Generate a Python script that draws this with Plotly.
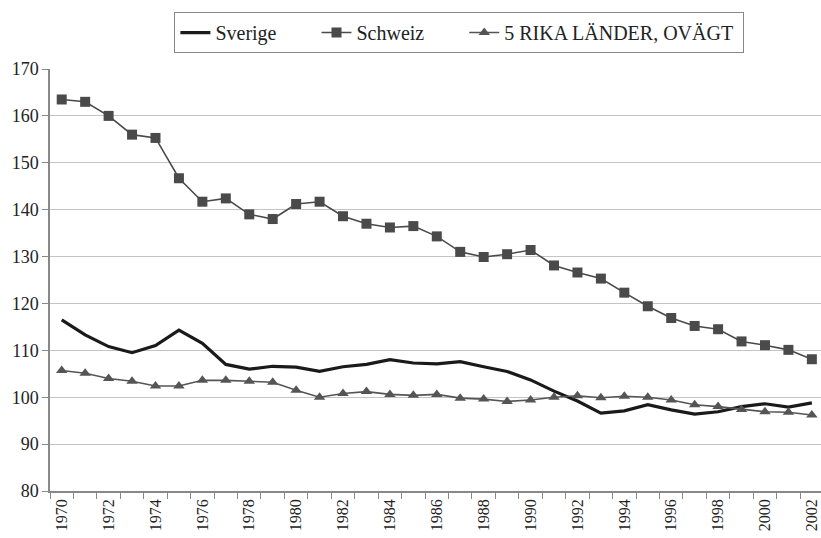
import plotly.graph_objects as go

years = [str(y) for y in range(1970, 2003)]
sverige = [116.5, 113.3, 110.8, 109.5, 111.0, 114.3, 111.5, 107.0, 106.0, 106.6, 106.4,
           105.5, 106.5, 107.0, 108.0, 107.3, 107.1, 107.6, 106.5, 105.5, 103.7, 101.3,
           99.2, 96.6, 97.1, 98.4, 97.3, 96.4, 96.9, 98.0, 98.6, 97.9, 98.8]
schweiz = [163.5, 163.0, 160.0, 156.0, 155.3, 146.7, 141.7, 142.4, 139.0, 138.0, 141.2,
           141.7, 138.6, 137.0, 136.2, 136.5, 134.3, 131.0, 129.9, 130.5, 131.4, 128.1,
           126.6, 125.3, 122.3, 119.4, 116.9, 115.2, 114.5, 111.9, 111.1, 110.1, 108.1]
rika = [105.7, 105.1, 104.0, 103.4, 102.4, 102.4, 103.6, 103.6, 103.4, 103.2, 101.5,
        100.0, 100.8, 101.2, 100.6, 100.4, 100.6, 99.8, 99.6, 99.1, 99.4, 100.0,
        100.3, 99.9, 100.2, 100.0, 99.4, 98.4, 98.0, 97.4, 96.9, 96.8, 96.2]
tick_text = [y if int(y) % 2 == 0 else "" for y in years]

FONT = "Liberation Serif"
PAD = "\u00a0" * 7

fig = go.Figure()
fig.add_trace(go.Scatter(x=years, y=sverige, name="Sverige" + PAD, mode="lines",
                         line=dict(color="#1a1a1a", width=3.2)))
fig.add_trace(go.Scatter(x=years, y=schweiz, name="Schweiz" + PAD, mode="lines+markers",
                         line=dict(color="#4a4a4a", width=1.6),
                         marker=dict(symbol="square", size=10, color="#4a4a4a")))
fig.add_trace(go.Scatter(x=years, y=rika, name="5 RIKA LÄNDER, OVÄGT\u00a0", mode="lines+markers",
                         line=dict(color="#555555", width=1.6),
                         marker=dict(symbol="triangle-up", size=10, color="#555555")))

fig.update_layout(
    width=821, height=538,
    margin=dict(l=50, r=0, t=69, b=47, autoexpand=False),
    paper_bgcolor="white", plot_bgcolor="white",
    font=dict(family=FONT, size=16, color="#222222"),
    legend=dict(orientation="h", x=0.531, y=1.135, xanchor="center", yanchor="top",
                bordercolor="#888888", borderwidth=1,
                font=dict(family=FONT, size=20, color="#222222")),
    showlegend=True,
)

fig.update_xaxes(type="category", range=[-0.5, 32.39], tickson="boundaries",
                 tickmode="array", tickvals=years, ticktext=tick_text,
                 tickangle=-90, ticks="outside", ticklen=6, tickcolor="#888888",
                 showline=True, linecolor="#888888", linewidth=1.5, showgrid=False,
                 automargin=False,
                 tickfont=dict(family=FONT, size=16, color="#222222"))
fig.update_yaxes(range=[80, 170], dtick=10, ticks="outside", ticklen=6,
                 tickcolor="#888888", showline=True, linecolor="#888888", linewidth=1.5,
                 showgrid=True, gridcolor="#c4c4c4", gridwidth=1.2, automargin=False,
                 tickfont=dict(family=FONT, size=18, color="#222222"))

fig.write_html(
    "out.html",
    config={"displayModeBar": False},
    post_script="document.body.style.margin='0';document.documentElement.style.overflow='hidden';",
)
